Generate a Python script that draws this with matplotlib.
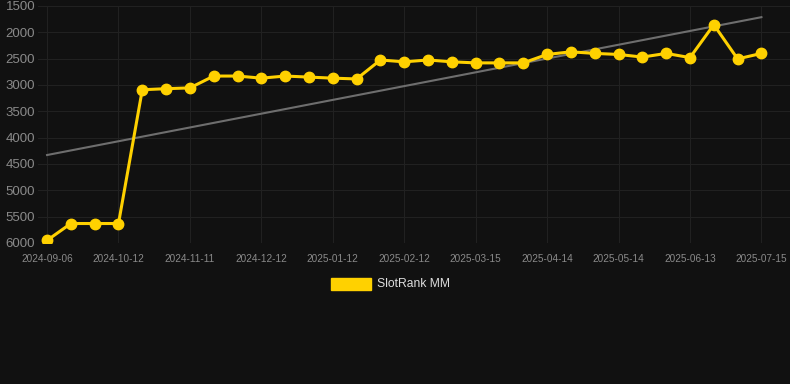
import numpy as np
from matplotlib import pyplot as plt

tick_labels = ['2024-09-06', '2024-10-12', '2024-11-11', '2024-12-12', '2025-01-12',
               '2025-02-12', '2025-03-15', '2025-04-14', '2025-05-14', '2025-06-13', '2025-07-15']
rank = [5950, 5630, 5630, 5630, 3090, 3070, 3055, 2830, 2830, 2870, 2830,
        2850, 2870, 2885, 2525, 2560, 2525, 2560, 2580, 2580, 2580, 2420,
        2370, 2400, 2420, 2470, 2400, 2480, 1855, 2505, 2400]

x = np.arange(len(rank))
slope, icpt = np.polyfit(x, rank, 1)

bg = '#111111'
fig = plt.figure(figsize=(7.9, 3.84), dpi=100, facecolor=bg)
ax = fig.add_axes([38 / 790, 1 - 243 / 384, 752 / 790, 237 / 384], facecolor=bg)

ax.plot(x, slope * x + icpt, color='#6e6e6e', lw=1.5, zorder=2)
ax.plot(x, rank, color='#ffd100', lw=2.2, marker='o', ms=7.5, zorder=3, label='SlotRank MM')

ax.set_ylim(6000, 1500)
ax.set_xlim(-0.38, 31.2)
ax.set_yticks(np.arange(1500, 6001, 500))
ax.set_xticks(x[::3])
ax.set_xticklabels(tick_labels)
ax.grid(color='#222222', lw=0.7)
ax.set_axisbelow(True)
for s in ax.spines.values():
    s.set_visible(False)
ax.tick_params(length=0, colors='#8a8a8a')
ax.tick_params(axis='y', labelsize=9.5, pad=2)
ax.tick_params(axis='x', labelsize=7.2, pad=8)
for lbl in ax.get_yticklabels() + ax.get_xticklabels():
    lbl.set_fontfamily('Liberation Sans')

# legend: solid yellow box like the original
fig.patches.append(plt.Rectangle((331 / 790, 1 - 290 / 384), 40 / 790, 12 / 384,
                                 transform=fig.transFigure, color='#ffd100'))
fig.text(377 / 790, 1 - 284 / 384, 'SlotRank MM', color='#dddddd', fontsize=8.7,
         family='Liberation Sans', va='center', ha='left')

fig.savefig('out.png', facecolor=bg)
